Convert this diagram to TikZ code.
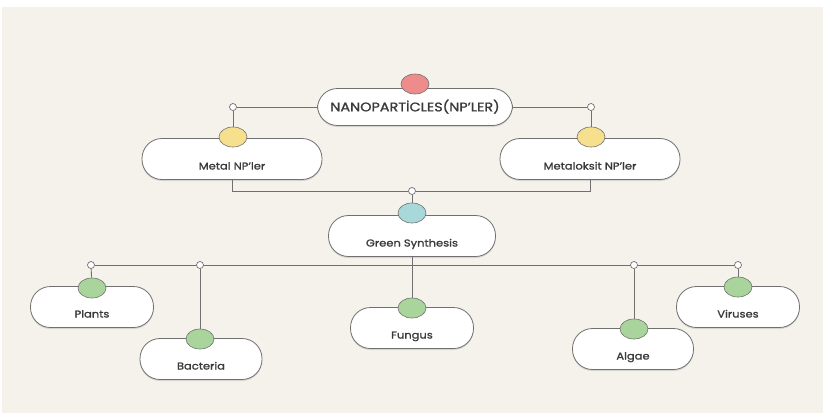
\documentclass[tikz,border=0pt]{standalone}
\usepackage{fontspec}
\setmainfont{Poppins}[FakeStretch=1.15,FakeBold=1.3]
\usepackage{tikz}
\usetikzlibrary{positioning,shapes.geometric,shadows,backgrounds}
\definecolor{paper}{HTML}{F5F2EC}
\definecolor{wire}{HTML}{707070}
\definecolor{ink}{HTML}{3A3A3A}
\definecolor{npred}{HTML}{EE8C8C}
\definecolor{npyellow}{HTML}{F6E08E}
\definecolor{npcyan}{HTML}{A9D8DA}
\definecolor{npgreen}{HTML}{A9D49C}

\begin{document}
\begin{tikzpicture}[x=1pt,y=1pt]
			\tikzstyle{every node}+=[inner sep=0pt, text=ink]
			\tikzstyle{pill}=[draw=wire, line width=0.8pt, fill=white, rounded corners=20pt, minimum height=41pt, text height=21pt, text depth=0pt, font=\fontsize{10}{12}\selectfont, drop shadow={opacity=0.25, shadow xshift=0pt, shadow yshift=-1.5pt}]
			\tikzstyle{knob}=[ellipse, draw=wire, line width=0.6pt, minimum width=28pt, minimum height=20pt]
			\tikzstyle{joint}=[circle, draw=wire, fill=white, line width=0.7pt, minimum size=7pt]
			\tikzstyle{wireline}=[draw=wire, line width=0.9pt]
			\useasboundingbox (0,0) rectangle (823,-413);
			% top level
			\node [pill, minimum width=195pt, minimum height=37pt, text height=8.7pt, font=\fontsize{12.5}{14}\selectfont] (np) at (415,-107) {NANOPARTİCLES(NP'LER)};
			\node [knob, fill=npred] (npdot) at (415,-84) {};
			\node [joint] (jmetal) at (233,-107) {};
			\node [joint] (jmetox) at (591,-107) {};
			% metal classes
			\node [pill, minimum width=180pt] (metal) at (232,-159) {Metal NP'ler};
			\node [knob, fill=npyellow] (metaldot) at (233,-137) {};
			\node [pill, minimum width=180pt] (metox) at (590,-159) {Metaloksit NP'ler};
			\node [knob, fill=npyellow] (metoxdot) at (591,-137) {};
			% green synthesis
			\node [joint] (jgreen) at (412,-191) {};
			\node [pill, minimum width=167pt] (green) at (412,-236) {Green Synthesis};
			\node [knob, fill=npcyan] (greendot) at (412,-213) {};
			% sources
			\node [joint] (jplants) at (91,-265) {};
			\node [joint] (jbact) at (200,-265) {};
			\node [joint] (jalgae) at (634,-265) {};
			\node [joint] (jvir) at (738,-265) {};
			\node [pill, minimum width=123pt] (plants) at (92,-307) {Plants};
			\node [knob, fill=npgreen] (plantsdot) at (92,-288) {};
			\node [pill, minimum width=122pt] (bact) at (201,-359) {Bacteria};
			\node [knob, fill=npgreen] (bactdot) at (200,-339) {};
			\node [pill, minimum width=123pt] (fungus) at (412,-328) {Fungus};
			\node [knob, fill=npgreen] (fungusdot) at (412,-308) {};
			\node [pill, minimum width=121pt] (algae) at (633,-349) {Algae};
			\node [knob, fill=npgreen] (algaedot) at (634,-329) {};
			\node [pill, minimum width=123pt] (vir) at (738,-307) {Viruses};
			\node [knob, fill=npgreen] (virdot) at (738,-287) {};
			% wires behind
			\begin{scope}[on background layer]
			\fill [paper] (2,-7) rectangle (823,-413);
			\draw [wireline] (np.west) -- (jmetal) -- (metaldot);
			\draw [wireline] (np.east) -- (jmetox) -- (metoxdot);
			\draw [wireline] (metal.south) |- (jgreen) -| (metox.south);
			\draw [wireline] (jgreen) -- (greendot);
			\draw [wireline] (green.south) -- (fungusdot);
			\draw [wireline] (jplants) -- (jvir);
			\draw [wireline] (jplants) -- (plantsdot);
			\draw [wireline] (jbact) -- (bactdot);
			\draw [wireline] (jalgae) -- (algaedot);
			\draw [wireline] (jvir) -- (virdot);
			\end{scope}
\end{tikzpicture}
\end{document}
